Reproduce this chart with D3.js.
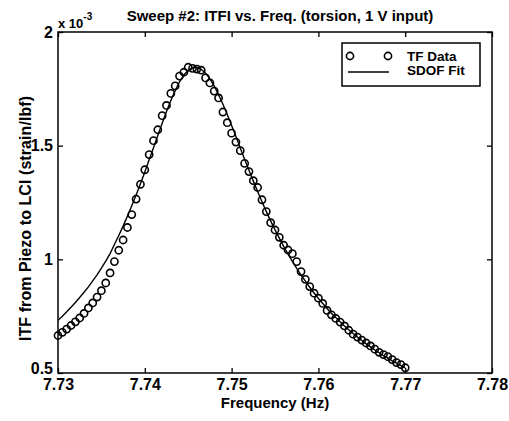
<!DOCTYPE html>
<html>
<head>
<meta charset="utf-8">
<script src="https://cdn.jsdelivr.net/npm/d3@7"></script>
<style>
body { margin: 0; background: #fff; }
text { font-family: "Liberation Sans", Arial, Helvetica, sans-serif; fill: #000; }
</style>
</head>
<body>
<div id="chart"></div>
<script>
// sweep #2 frequencies (Hz)
const freq = [7.7300, 7.7305, 7.7310, 7.7315, 7.7320, 7.7325, 7.7330, 7.7335, 7.7340, 7.7345,
  7.7350, 7.7355, 7.7360, 7.7365, 7.7370, 7.7375, 7.7380, 7.7385, 7.7390, 7.7395,
  7.7400, 7.7405, 7.7410, 7.7415, 7.7420, 7.7425, 7.7430, 7.7435, 7.7440, 7.7445,
  7.7450, 7.7455, 7.7460, 7.7465, 7.7470, 7.7475, 7.7480, 7.7485, 7.7490, 7.7495,
  7.7500, 7.7505, 7.7510, 7.7515, 7.7520, 7.7525, 7.7530, 7.7535, 7.7540, 7.7545,
  7.7550, 7.7555, 7.7560, 7.7565, 7.7570, 7.7575, 7.7580, 7.7585, 7.7590, 7.7595,
  7.7600, 7.7605, 7.7610, 7.7615, 7.7620, 7.7625, 7.7630, 7.7635, 7.7640, 7.7645,
  7.7650, 7.7655, 7.7660, 7.7665, 7.7670, 7.7675, 7.7680, 7.7685, 7.7690, 7.7695,
  7.7700];

// |TF| measured, x 10^-3 strain/lbf
const tfData = [0.665, 0.679, 0.693, 0.709, 0.725, 0.742, 0.762, 0.786, 0.808, 0.834,
  0.862, 0.896, 0.940, 0.990, 1.040, 1.085, 1.140, 1.197, 1.265, 1.330,
  1.394, 1.461, 1.522, 1.570, 1.632, 1.677, 1.730, 1.763, 1.806, 1.823,
  1.845, 1.840, 1.837, 1.832, 1.798, 1.776, 1.740, 1.710, 1.648, 1.601,
  1.555, 1.516, 1.478, 1.422, 1.386, 1.346, 1.316, 1.262, 1.210, 1.161,
  1.129, 1.097, 1.062, 1.041, 1.025, 0.990, 0.946, 0.912, 0.880, 0.851,
  0.829, 0.806, 0.775, 0.756, 0.740, 0.724, 0.707, 0.688, 0.671, 0.658,
  0.645, 0.632, 0.619, 0.605, 0.591, 0.581, 0.572, 0.559, 0.546, 0.537,
  0.523];

// SDOF fit, same frequencies
const sdofFit = [0.732, 0.750, 0.769, 0.789, 0.810, 0.832, 0.855, 0.879, 0.905, 0.932,
  0.961, 0.992, 1.025, 1.065, 1.105, 1.146, 1.190, 1.236, 1.283, 1.333,
  1.384, 1.438, 1.491, 1.545, 1.599, 1.650, 1.699, 1.742, 1.781, 1.811,
  1.832, 1.843, 1.844, 1.836, 1.819, 1.794, 1.762, 1.724, 1.682, 1.637,
  1.589, 1.540, 1.490, 1.440, 1.392, 1.344, 1.298, 1.253, 1.210, 1.169,
  1.130, 1.093, 1.057, 1.023, 0.991, 0.960, 0.931, 0.904, 0.877, 0.852,
  0.828, 0.806, 0.784, 0.763, 0.744, 0.725, 0.707, 0.690, 0.674, 0.658,
  0.643, 0.628, 0.615, 0.601, 0.589, 0.576, 0.565, 0.553, 0.543, 0.532,
  0.522];

const xTicks = [7.73, 7.74, 7.75, 7.76, 7.77, 7.78];
const yTicks = [0.5, 1, 1.5, 2];
const yTickLabels = ["0.5", "1", "1.5", "2"];
const legendNames = ["TF Data", "SDOF Fit"];

let W = 509, H = 421;
let svg = d3.select("#chart").append("svg").attr("width", W).attr("height", H);
svg.append("rect").attr("width", W).attr("height", H).attr("fill", "#fff");

let mLeft = 58, mRight = 492, mTop = 32, mBottom = 373;
let x = d3.scaleLinear().domain([7.73, 7.78]).range([mLeft, mRight]);
let y = d3.scaleLinear().domain([0.5, 2]).range([mBottom, mTop]);

/* axes, matlab style: ticks inside, on all four sides */
let gx = svg.append("g").attr("transform", "translate(0," + mBottom + ")")
  .call(d3.axisBottom(x).tickValues(xTicks).tickSize(-5).tickPadding(6).tickFormat(d3.format(".2f")));
gx.selectAll("text").style("font-size", "16px").style("font-weight", "bold");

let gy = svg.append("g").attr("transform", "translate(" + mLeft + ",0)")
  .call(d3.axisLeft(y).tickValues(yTicks).tickSize(-5).tickPadding(5).tickFormat((d, i) => yTickLabels[i]));
gy.selectAll("text").style("font-size", "16px").style("font-weight", "bold")
  .attr("dy", d => d == 0.5 ? "0.02em" : "0.32em");  // bottom label sits a bit higher, clear of 7.73

svg.append("g").attr("transform", "translate(0," + mTop + ")")
  .call(d3.axisTop(x).tickValues(xTicks).tickSize(-5).tickFormat(""));
svg.append("g").attr("transform", "translate(" + mRight + ",0)")
  .call(d3.axisRight(y).tickValues(yTicks).tickSize(-5).tickFormat(""));

svg.selectAll(".domain").remove();
svg.selectAll(".tick line").attr("stroke", "#000").attr("stroke-width", 1.3);

svg.append("rect").attr("x", mLeft).attr("y", mTop).attr("width", mRight - mLeft).attr("height", mBottom - mTop)
  .attr("fill", "none").attr("stroke", "#000").attr("stroke-width", 1.5);

/* fit line + data circles */
let line = d3.line().x((d, i) => x(freq[i])).y(d => y(d));
svg.append("path").datum(sdofFit).attr("d", line)
  .attr("fill", "none").attr("stroke", "#000").attr("stroke-width", 1.4);

svg.selectAll(".pt").data(tfData).enter().append("circle")
  .attr("class", "pt")
  .attr("cx", (d, i) => x(freq[i]))
  .attr("cy", d => y(d))
  .attr("r", 3.6)
  .attr("fill", "none").attr("stroke", "#000").attr("stroke-width", 1.6);

/* texts */
svg.append("text").attr("x", 280).attr("y", 21).attr("text-anchor", "middle")
  .style("font-size", "15px").style("font-weight", "bold")
  .text("Sweep #2: ITFI vs. Freq. (torsion, 1 V input)");

let ex = svg.append("text").attr("x", 58).attr("y", 28).style("font-size", "13px").style("font-weight", "bold");
ex.append("tspan").text("x 10");
ex.append("tspan").attr("dy", -8).style("font-size", "10px").text("-3");

svg.append("text").attr("x", (mLeft + mRight) / 2).attr("y", 408).attr("text-anchor", "middle")
  .style("font-size", "15px").style("font-weight", "bold").text("Frequency (Hz)");

svg.append("text").attr("transform", "translate(31," + ((mTop + mBottom) / 2 + 16) + ") rotate(-90)")
  .attr("text-anchor", "middle")
  .attr("textLength", 245).attr("lengthAdjust", "spacing")
  .style("font-size", "16px").style("font-weight", "bold").text("ITF from Piezo to LCI (strain/lbf)");

/* legend */
let lg = svg.append("g");
lg.append("rect").attr("x", 342).attr("y", 43).attr("width", 138).attr("height", 43)
  .attr("fill", "#fff").attr("stroke", "#000").attr("stroke-width", 1.5);
lg.selectAll(".lm").data([350, 388]).enter().append("circle")
  .attr("cx", d => d).attr("cy", 56).attr("r", 3.6)
  .attr("fill", "none").attr("stroke", "#000").attr("stroke-width", 1.6);
lg.append("line").attr("x1", 348).attr("x2", 389).attr("y1", 72).attr("y2", 72)
  .attr("stroke", "#000").attr("stroke-width", 1.4);
lg.selectAll(".ln").data(legendNames).enter().append("text")
  .attr("x", 407).attr("y", (d, i) => 61 + i * 14)
  .style("font-size", "13.5px").style("font-weight", "bold").text(d => d);
</script>
</body>
</html>
